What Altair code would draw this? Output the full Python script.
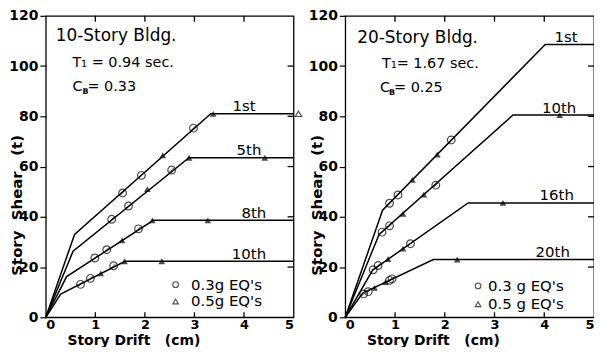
import altair as alt
import pandas as pd

FONT = "DejaVu Sans"

# ---------------- 10-story building (left panel) ----------------
L_series = ["1st", "5th", "8th", "10th"]
L_curve_x = [[0, 0.58, 3.33, 5.0], [0, 0.55, 2.89, 5.0], [0, 0.42, 2.17, 5.0], [0, 0.30, 1.60, 5.0]]
L_curve_y = [[0, 33.0, 81.0, 81.0], [0, 26.3, 63.5, 63.5], [0, 16.2, 38.6, 38.6], [0, 9.2, 22.3, 22.3]]
L_circ_x = [1.55, 1.93, 2.98, 1.33, 1.67, 2.54, 0.99, 1.23, 1.87, 0.70, 0.90, 1.37]
L_circ_y = [49.5, 56.5, 75.3, 39.0, 44.3, 58.6, 23.6, 26.9, 35.2, 13.1, 15.5, 20.5]
L_tri_x = [2.36, 3.38, 2.05, 2.89, 4.42, 1.54, 2.15, 3.27, 1.11, 1.59, 2.34]
L_tri_y = [64.5, 81.0, 51.0, 63.5, 63.5, 30.6, 38.6, 38.6, 17.5, 22.3, 22.3]
L_open_tri_x = [5.1]
L_open_tri_y = [81.0]
L_lab_x = [4.0, 4.1, 4.2, 4.1]
L_lab_y = [82.0, 64.5, 39.5, 23.3]
L_head = ["10-Story Bldg."]
L_head_x = [0.20]
L_head_y = [109.8]
L_param = ["T\u2081 = 0.94 sec.", "C", "= 0.33"]
L_param_x = [0.54, 0.54, 0.84]
L_param_y = [99.5, 90.1, 90.1]
L_sub = ["B"]
L_sub_x = [0.74]
L_sub_y = [89.0]
L_leg_text = ["0.3g EQ's", "0.5g EQ's"]
L_leg_sym_x = [2.62, 2.62]
L_leg_y = [13.0, 6.3]
L_leg_text_x = [2.93, 2.93]

# ---------------- 20-story building (right panel) ----------------
R_series = ["1st", "10th", "16th", "20th"]
R_curve_x = [[0, 0.75, 4.02, 5.0], [0, 0.68, 3.37, 5.0], [0, 0.55, 2.47, 5.0], [0, 0.35, 1.77, 5.0]]
R_curve_y = [[0, 42.6, 108.6, 108.6], [0, 33.0, 80.5, 80.5], [0, 18.8, 45.5, 45.5], [0, 9.6, 23.0, 23.0]]
R_circ_x = [0.89, 1.06, 2.13, 0.74, 0.89, 1.82, 0.56, 0.66, 1.31, 0.37, 0.46, 0.89, 0.94]
R_circ_y = [45.4, 48.7, 70.6, 33.9, 36.4, 52.6, 18.9, 20.6, 29.3, 9.3, 10.2, 14.7, 15.3]
R_tri_x = [1.35, 1.85, 1.16, 1.58, 4.31, 0.86, 1.16, 3.17, 0.59, 0.81, 2.25]
R_tri_y = [54.7, 64.8, 41.2, 48.8, 80.5, 23.2, 27.3, 45.5, 11.7, 14.0, 23.0]
R_lab_x = [4.44, 4.30, 4.25, 4.17]
R_lab_y = [109.5, 81.5, 46.5, 24.0]
R_head = ["20-Story Bldg."]
R_head_x = [0.24]
R_head_y = [109.0]
R_param = ["T\u2081= 1.67 sec.", "C", "= 0.25"]
R_param_x = [0.74, 0.70, 0.98]
R_param_y = [99.1, 89.7, 89.7]
R_sub = ["B"]
R_sub_x = [0.88]
R_sub_y = [88.6]
R_leg_text = ["0.3 g EQ's", "0.5 g EQ's"]
R_leg_sym_x = [2.67, 2.67]
R_leg_y = [12.5, 5.2]
R_leg_text_x = [2.87, 2.87]

X_TICKS = [0, 1, 2, 3, 4, 5]
Y_TICKS = [0, 20, 40, 60, 80, 100, 120]
IN_X_TICKS = [1, 2, 3, 4]
IN_Y_TICKS = [20, 40, 60, 80, 100]

NB = "\u00a0"
X_TITLE = "Story" + NB + "Drift" + NB * 3 + "(cm)"
Y_TITLE = "Story" + NB * 2 + "Shear" + NB * 3 + "(t)"

H = 303


def curves_df(series, xs, ys):
    rows = []
    for s, cx, cy in zip(series, xs, ys):
        for i, (a, b) in enumerate(zip(cx, cy)):
            rows.append({"series": s, "i": i, "x": a, "y": b})
    return pd.DataFrame(rows)


def panel(W, series, cx, cy, circ_x, circ_y, tri_x, tri_y, otri_x, otri_y,
          lab_x, lab_y, head, head_x, head_y, par, par_x, par_y, sub, sub_x, sub_y,
          leg_text, leg_sym_x, leg_y, leg_text_x):
    xs = alt.Scale(domain=[0, 5], nice=False, zero=False)
    ys = alt.Scale(domain=[0, 120], nice=False)

    def X(f="x"):
        return alt.X(f + ":Q", scale=xs, axis=None)

    def Y(f="y"):
        return alt.Y(f + ":Q", scale=ys, axis=None)

    ax_bottom = alt.Axis(values=X_TICKS, ticks=False, domain=False, grid=False,
                         labelFontSize=13, labelFontWeight="bold", labelFont=FONT,
                         labelColor="black", labelPadding=1,
                         title=X_TITLE, titleFont=FONT, titleFontSize=14,
                         titleFontWeight="bold", titleColor="black",
                         titleX=88, titleY=27, titleBaseline="alphabetic")
    ax_left = alt.Axis(values=Y_TICKS, tickSize=6, tickColor="black", tickWidth=1.2,
                       domain=False, grid=False,
                       labelFontSize=14, labelFontWeight="bold", labelFont=FONT,
                       labelColor="black", labelPadding=2,
                       title=Y_TITLE, titleFont=FONT, titleFontSize=15,
                       titleFontWeight="bold", titleColor="black",
                       titleAngle=270, titleX=-24, titleY=190,
                       titleBaseline="alphabetic")

    lines = alt.Chart(curves_df(series, cx, cy)).mark_line(
        color="black", strokeWidth=1.5).encode(
        x=alt.X("x:Q", scale=xs, axis=ax_bottom),
        y=alt.Y("y:Q", scale=ys, axis=ax_left),
        detail="series:N", order="i:Q")

    # inward ticks on the top, bottom and right frame
    tdf = pd.DataFrame({"x": IN_X_TICKS})
    top_ticks = alt.Chart(tdf).mark_rule(color="black", strokeWidth=1.3).encode(
        x=X(), y=alt.value(0), y2=alt.value(6))
    bot_ticks = alt.Chart(tdf).mark_rule(color="black", strokeWidth=1.3).encode(
        x=X(), y=alt.value(H - 5), y2=alt.value(H))
    rdf = pd.DataFrame({"y": IN_Y_TICKS})
    right_ticks = alt.Chart(rdf).mark_rule(color="black", strokeWidth=1.3).encode(
        y=Y(), x=alt.value(W - 6), x2=alt.value(W))

    cdf = pd.DataFrame({"x": circ_x, "y": circ_y})
    circles = alt.Chart(cdf).mark_point(
        shape="circle", filled=False, size=60, color="black", strokeWidth=1.2).encode(
        x=X(), y=Y())
    slashes = alt.Chart(cdf).mark_point(
        shape="M-0.6,0.6L0.6,-0.6", filled=False, size=60, color="black",
        strokeWidth=1).encode(x=X(), y=Y())

    tris = alt.Chart(pd.DataFrame({"x": tri_x, "y": tri_y})).mark_point(
        shape="triangle-up", filled=True, size=45, color="black").encode(x=X(), y=Y())

    layers = [lines, top_ticks, bot_ticks, right_ticks, circles, slashes, tris]

    if otri_x:
        otris = alt.Chart(pd.DataFrame({"x": otri_x, "y": otri_y})).mark_point(
            shape="triangle-up", filled=False, size=40, color="black",
            strokeWidth=1.2).encode(x=X(), y=Y())
        layers.append(otris)

    labs = alt.Chart(pd.DataFrame({"x": lab_x, "y": lab_y, "t": series})).mark_text(
        font=FONT, fontSize=15, align="center", baseline="alphabetic",
        color="black").encode(x=X(), y=Y(), text="t:N")

    heads = alt.Chart(pd.DataFrame({"x": head_x, "y": head_y, "t": head})).mark_text(
        font=FONT, fontSize=17, align="left", baseline="alphabetic",
        color="black").encode(x=X(), y=Y(), text="t:N")

    pars = alt.Chart(pd.DataFrame({"x": par_x, "y": par_y, "t": par})).mark_text(
        font=FONT, fontSize=14.5, align="left", baseline="alphabetic",
        color="black").encode(x=X(), y=Y(), text="t:N")

    subs = alt.Chart(pd.DataFrame({"x": sub_x, "y": sub_y, "t": sub})).mark_text(
        font=FONT, fontSize=8, fontWeight="bold", align="left", baseline="alphabetic",
        color="black").encode(x=X(), y=Y(), text="t:N")

    leg_c = alt.Chart(pd.DataFrame({"x": leg_sym_x[:1], "y": leg_y[:1]})).mark_point(
        shape="circle", filled=False, size=32, color="black", strokeWidth=1.1).encode(
        x=X(), y=Y())
    leg_t = alt.Chart(pd.DataFrame({"x": leg_sym_x[1:], "y": leg_y[1:]})).mark_point(
        shape="triangle-up", filled=False, size=32, color="black", strokeWidth=1.1).encode(
        x=X(), y=Y())
    leg_txt = alt.Chart(pd.DataFrame({"x": leg_text_x, "y": leg_y, "t": leg_text})).mark_text(
        font=FONT, fontSize=15, align="left", baseline="middle", color="black").encode(
        x=X(), y=Y(), text="t:N")

    layers += [labs, heads, pars, subs, leg_c, leg_t, leg_txt]
    return alt.layer(*layers).resolve_axis(x="independent", y="independent").properties(
        width=W, height=H)


left = panel(249, L_series, L_curve_x, L_curve_y, L_circ_x, L_circ_y, L_tri_x, L_tri_y,
             L_open_tri_x, L_open_tri_y, L_lab_x, L_lab_y, L_head, L_head_x, L_head_y,
             L_param, L_param_x, L_param_y, L_sub, L_sub_x, L_sub_y,
             L_leg_text, L_leg_sym_x, L_leg_y, L_leg_text_x)
right = panel(250, R_series, R_curve_x, R_curve_y, R_circ_x, R_circ_y, R_tri_x, R_tri_y,
              [], [], R_lab_x, R_lab_y, R_head, R_head_x, R_head_y,
              R_param, R_param_x, R_param_y, R_sub, R_sub_x, R_sub_y,
              R_leg_text, R_leg_sym_x, R_leg_y, R_leg_text_x)

chart = alt.hconcat(left, right, spacing=52, bounds="flush").configure_view(
    stroke="black", strokeWidth=1.3).properties(
    padding={"left": 0, "top": -1, "right": -4, "bottom": -2}, background="white")

chart.save("out.html", embed_options={"renderer": "svg", "actions": False})
